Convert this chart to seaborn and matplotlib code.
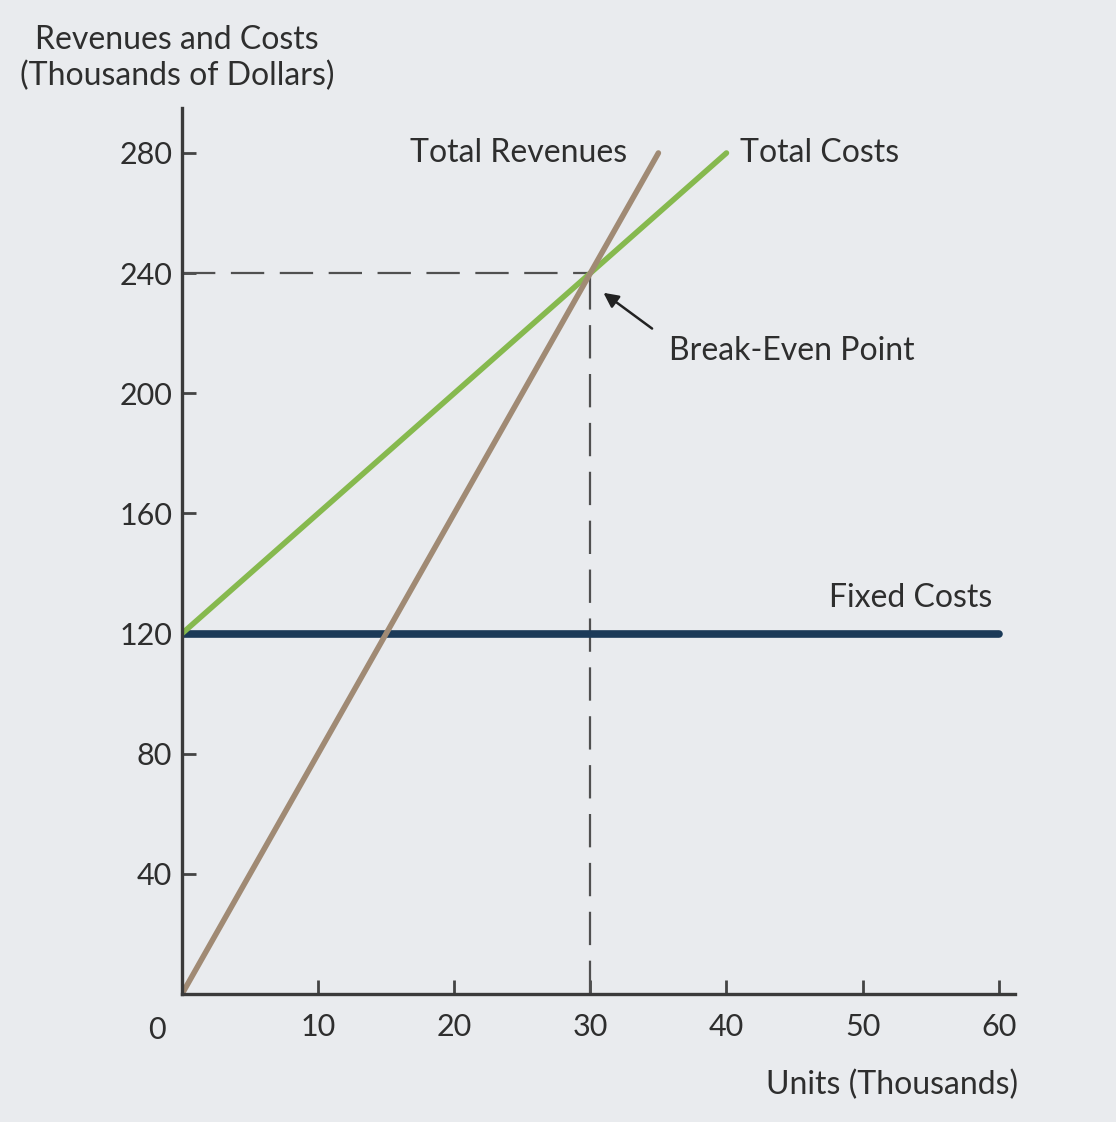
import matplotlib.pyplot as plt
import seaborn as sns

# break-even chart data (thousands)
units_rev = [0, 35]
total_revenues = [0, 280]
units_cost = [0, 40]
total_costs = [120, 280]
units_fixed = [0, 60]
fixed_costs = [120, 120]
break_even = (30, 240)
x_ticks = [10, 20, 30, 40, 50, 60]
y_ticks = [40, 80, 120, 160, 200, 240, 280]

bg = '#e9ebee'
ink = '#2e2e2e'

sns.set_theme(style="white")
plt.rcParams['font.family'] = ['Lato', 'DejaVu Sans']

fig = plt.figure(figsize=(11.16, 11.22), dpi=100, facecolor=bg)
ax = fig.add_axes([0.1631, 0.1141, 0.7464, 0.7897])
ax.set_facecolor(bg)

# dashed guides to the break-even point
ax.plot([0, break_even[0]], [break_even[1], break_even[1]], color='#505050', lw=1.6, dashes=(15, 7))
ax.plot([break_even[0], break_even[0]], [0, break_even[1]], color='#505050', lw=1.6, dashes=(15, 7))

sns.lineplot(x=units_fixed, y=fixed_costs, ax=ax, color='#1b3a58', linewidth=5.5)
sns.lineplot(x=units_cost, y=total_costs, ax=ax, color='#86b94e', linewidth=4)
sns.lineplot(x=units_rev, y=total_revenues, ax=ax, color='#a08a74', linewidth=4)

ax.set_xlim(0, 61.2)
ax.set_ylim(0, 295)
ax.set_xticks(x_ticks)
ax.set_yticks(y_ticks)
ax.tick_params(axis='both', direction='in', length=10, width=2, color='#444444',
               labelsize=22, labelcolor=ink, bottom=True, left=True)
ax.tick_params(axis='x', pad=14)
ax.tick_params(axis='y', pad=7)
for s in ['top', 'right']:
    ax.spines[s].set_visible(False)
for s in ['left', 'bottom']:
    ax.spines[s].set_color('#3a3a3a')
    ax.spines[s].set_linewidth(2.4)

fs = 23
ax.text(32.7, 280, 'Total Revenues', ha='right', va='center', fontsize=fs, color=ink)
ax.text(41.0, 280, 'Total Costs', ha='left', va='center', fontsize=fs, color=ink)
ax.text(35.8, 214, 'Break-Even Point', ha='left', va='center', fontsize=fs, color=ink)
ax.text(59.5, 132, 'Fixed Costs', ha='right', va='center', fontsize=fs, color=ink)
ax.annotate('', xy=(30.8, 234), xytext=(34.7, 221),
            arrowprops=dict(arrowstyle='-|>', color='#222222', lw=1.8, mutation_scale=22))

fig.text(177 / 1116, 1 - 58 / 1122, 'Revenues and Costs\n(Thousands of Dollars)',
         ha='center', va='center', fontsize=fs, color=ink, linespacing=1.25)
fig.text(157 / 1116, 1 - 1030 / 1122, '0', ha='center', va='center', fontsize=22, color=ink)
fig.text(1018 / 1116, 1 - 1085 / 1122, 'Units (Thousands)', ha='right', va='center',
         fontsize=fs, color=ink)

fig.savefig('out.png', dpi=100, facecolor=bg)
